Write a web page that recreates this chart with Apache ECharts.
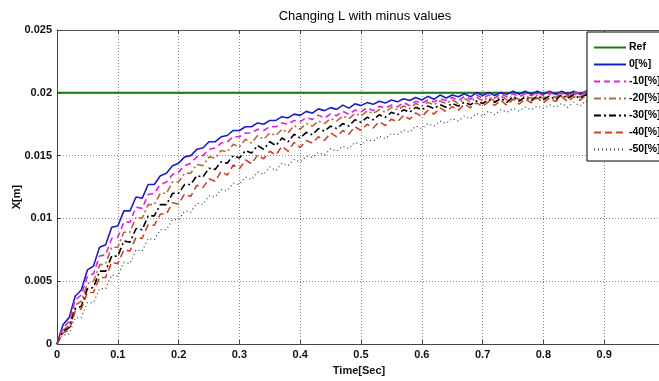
<!DOCTYPE html>
<html>
<head>
<meta charset="utf-8">
<script src="https://cdn.jsdelivr.net/npm/echarts@6/dist/echarts.min.js"></script>
<style>
html,body{margin:0;padding:0;background:#fff;}
#chart{width:659px;height:381px;}
</style>
</head>
<body>
<div id="chart"></div>
<script>
// sample times [s]
const time = [0,0.01,0.02,0.03,0.04,0.05,0.06,0.07,0.08,0.09,0.1,0.11,0.12,0.13,0.14,0.15,0.16,0.17,0.18,0.19,0.2,0.21,0.22,0.23,0.24,0.25,0.26,0.27,0.28,0.29,0.3,0.31,0.32,0.33,0.34,0.35,0.36,0.37,0.38,0.39,0.4,0.41,0.42,0.43,0.44,0.45,0.46,0.47,0.48,0.49,0.5,0.51,0.52,0.53,0.54,0.55,0.56,0.57,0.58,0.59,0.6,0.61,0.62,0.63,0.64,0.65,0.66,0.67,0.68,0.69,0.7,0.71,0.72,0.73,0.74,0.75,0.76,0.77,0.78,0.79,0.8,0.81,0.82,0.83,0.84,0.85,0.86,0.87,0.88,0.89,0.9,0.91,0.92,0.93,0.94,0.95,0.96,0.97,0.98,0.99,1.0];

const refTime = [0, 1];
const refValues = [0.02, 0.02];

const p0 = [0,.00155,.0021,.0038,.0043,.0059,.0062,.0077,.0079,.0093,.0094,.0106,.0106,.0117,.0116,.0127,
.0127,.0134,.0136,.0142,.0144,.0149,.0150,.0155,.0156,.0161,.0161,.0165,.0166,.0170,.0170,.0173,.0173,.0176,.0175,.0178,.0178,.0181,.0180,.0183,.0182,
.01852,.01838,.01872,.01858,.01882,.01868,.01902,.01878,.01912,.01898,
.01922,.01908,.01932,.01918,.01942,.01928,.01952,.01938,.01962,.01943,
.01972,.01948,.01982,.01958,.01982,.01968,.01992,.01968,.02002,.01978,
.02002,.01978,.02002,.01988,.02012,.01988,.02012,.01988,.02012,.01988,
.02012,.01988,.02012,.01988,.02012,.01988,.02012,.01988,.02012,.01988,
.02012,.01988,.02012,.01988,.02012,.01988,.02012,.01988,.02012,.01988];

const m10 = [0,.0013,.0018,.0035,.0039,.0054,.0056,.0070,.0071,.0084,.0085,.0097,.0097,.0109,.0108,.0119,
.0120,.0127,.0129,.0135,.0137,.0142,.0144,.0149,.0150,.0155,.0156,.0160,.0161,.0165,.0165,.0168,.0168,.0171,.0170,.0173,.0173,.0176,.0175,.0178,.0177,
.01802,.01788,.01822,.01798,.01832,.01818,.01852,.01828,.01862,.01848,
.01882,.01858,.01892,.01878,.01902,.01888,.01922,.01898,.01932,.01918,
.01942,.01928,.01952,.01938,.01962,.01938,.01972,.01948,.01982,.01958,
.01982,.01958,.01992,.01968,.01992,.01968,.01992,.01978,.02002,.01978,
.02002,.01978,.02002,.01978,.02012,.01988,.02012,.01988,.02012,.01988,
.02012,.01988,.02012,.01988,.02012,.01988,.02012,.01988,.02012,.01988];

const m20 = [0,.0011,.0015,.0031,.0034,.0048,.0050,.0063,.0064,.0077,.0077,.0089,.0089,.0101,.0100,.0111,.0111,.0120,.0120,.0129,.0129,.0136,.0136,.0143,.0142,.0149,.0148,.0154,.0153,.0159,.0157,.0163,.0160,.0166,.0163,.0168,.0166,.0171,.0168,.0174,.0171,
.01755,.01735,.01775,.01755,.01795,.01775,.01815,.01795,.01835,.01815,
.01855,.01835,.01865,.01845,.01885,.01865,.01895,.01875,.01915,.01895,
.01925,.01905,.01935,.01915,.01945,.01915,.01955,.01925,.01965,.01935,
.01965,.01935,.01975,.01945,.01975,.01945,.01975,.01955,.01985,.01955,
.01985,.01965,.01995,.01965,.01995,.01965,.02005,.01975,.02005,.01975,
.02005,.01975,.02005,.01985,.02015,.01985,.02015,.01985,.02015,.01985];

const m30 = [0,.0010,.0013,.0028,.0030,.0044,.0045,.0058,.0058,.0070,.0070,.0082,.0081,.0092,.0091,.0102,.0102,.0111,.0111,.0120,.0120,.0127,.0127,.0134,.0133,.0140,.0139,.0145,.0144,.0150,.0148,.0154,.0152,.0158,.0155,.0161,.0158,.0164,.0161,.0167,.0164,
.01685,.01665,.01715,.01695,.01735,.01715,.01755,.01735,.01785,.01765,
.01805,.01785,.01825,.01805,.01845,.01825,.01865,.01845,.01885,.01865,
.01895,.01875,.01905,.01885,.01915,.01895,.01925,.01905,.01935,.01915,
.01945,.01925,.01955,.01925,.01965,.01935,.01965,.01935,.01975,.01945,
.01975,.01945,.01985,.01955,.01985,.01955,.01985,.01965,.01995,.01965,
.01995,.01965,.01995,.01965,.02005,.01975,.02005,.01975,.02005,.01975];

const m40 = [0,.0009,.0011,.0026,.0028,.0041,.0041,.0053,.0053,.0065,.0064,.0075,.0074,.0085,.0084,.0095,
.00945,.01035,.01035,.01125,.01115,.01195,.01175,.01265,.01245,.01315,.01295,.01375,.01345,.01425,.01395,.01465,.01435,.01505,.01475,.01535,.01505,.01575,.01535,.01605,.01565,
.0162,.0160,.0165,.0162,.0168,.0165,.0170,.0167,.0173,.0170,
.0175,.0172,.0177,.0174,.0179,.0177,.0182,.0179,.0184,.0181,
.0186,.0183,.0188,.0185,.0189,.0186,.0191,.0188,.0192,.0189,
.0193,.0190,.0194,.0190,.0195,.0191,.0195,.0192,.0196,.0192,
.0196,.0193,.0197,.0193,.0197,.0194,.0198,.0194,.0198,.0195,
.0199,.0195,.0199,.0195,.0199,.0196,.0200,.0196,.0200,.0196];

const m50 = [0,.0007,.0008,.0021,.0021,.0033,.0033,.0044,.0044,.0055,.0054,.0065,.0064,.0075,.0074,.0084,.0083,.0091,.0091,.0099,.0099,.0106,.0105,.0112,.0111,.0118,.0117,.0123,.0122,.0128,.0127,.0133,.0131,.0137,.0135,.0141,.0138,.0144,.0142,.0147,.0145,
.01495,.01485,.01525,.01505,.01555,.01535,.01575,.01555,.01605,.01585,
.01625,.01615,.01655,.01635,.01675,.01665,.01705,.01685,.01735,.01715,
.01755,.01735,.01775,.01755,.01795,.01775,.01815,.01795,.01835,.01815,
.01855,.01825,.01865,.01845,.01875,.01855,.01885,.01865,.01895,.01875,
.01905,.01885,.01915,.01885,.01925,.01895,.01935,.01905,.01935,.01915,
.01945,.01915,.01955,.01925,.01955,.01935,.01965,.01935,.01965,.01945];

const xTicks = [0,0.1,0.2,0.3,0.4,0.5,0.6,0.7,0.8,0.9,1];
const yTicks = [0,0.005,0.01,0.015,0.02,0.025];

const seriesDefs = [
  {name:'Ref',    t: refTime, v: refValues, color:'#0f7f0f', width:2,   type:'solid'},
  {name:'0[%]',   t: time, v: p0,  color:'#1c1cc8', width:1.6, type:'solid'},
  {name:'-10[%]', t: time, v: m10, color:'#e01ee0', width:1.6, type:[6,4]},
  {name:'-20[%]', t: time, v: m20, color:'#b8683a', width:1.6, type:[7,3,2,3]},
  {name:'-30[%]', t: time, v: m30, color:'#000000', width:1.6, type:[7,3,2,3]},
  {name:'-40[%]', t: time, v: m40, color:'#cc4422', width:1.6, type:[7,4]},
  {name:'-50[%]', t: time, v: m50, color:'#2e4e62', width:1.3, type:[1,3]}
];

const fontBold = '"Liberation Sans",Arial,sans-serif';
const labelStyle = {fontFamily: fontBold, fontWeight:'bold', fontSize:11, color:'#111'};

const chart = echarts.init(document.getElementById('chart'), null, {renderer:'canvas'});
chart.setOption({
  animation:false,
  backgroundColor:'#fff',
  title:{
    text:'Changing L with minus values',
    left:360, top:5, textAlign:'center',
    textStyle:{fontFamily:'"Liberation Sans",Arial,sans-serif', fontWeight:'normal', fontSize:13, color:'#000'}
  },
  legend:{
    orient:'vertical',
    left:587, top:32,
    padding:[10,10,6,6],
    itemGap:6,
    itemWidth:32, itemHeight:12,
    itemStyle:{color:'rgba(0,0,0,0)', borderWidth:0, opacity:0},
    backgroundColor:'#fff',
    borderColor:'#000', borderWidth:1, borderRadius:0,
    textStyle:Object.assign({}, labelStyle, {color:'#000', fontSize:10.5, padding:[0,0,0,-2]}),
    data: seriesDefs.map(s=>s.name)
  },
  grid:{left:57, right:-6, top:30, bottom:37, containLabel:false, outerBoundsMode:'none'},
  xAxis:[{
    type:'value', min:xTicks[0], max:xTicks[xTicks.length-1], interval:0.1,
    name:'Time[Sec]', nameLocation:'middle', nameGap:21, nameMoveOverlap:false,
    nameTextStyle:Object.assign({}, labelStyle, {padding:[0,4,0,0]}),
    axisLine:{show:true, lineStyle:{color:'#444', width:1}},
    axisTick:{show:true, inside:true, length:4, lineStyle:{color:'#444'}},
    axisLabel:Object.assign({}, labelStyle, {margin:5}),
    splitLine:{show:true, lineStyle:{color:'#888', type:[1,2], width:1}}
  },{
    type:'value', position:'top', min:xTicks[0], max:xTicks[xTicks.length-1], interval:0.1,
    axisLine:{show:true, lineStyle:{color:'#555', width:1}},
    axisTick:{show:true, inside:true, length:4, lineStyle:{color:'#444'}},
    axisLabel:{show:false}, splitLine:{show:false}
  }],
  yAxis:{
    type:'value', min:yTicks[0], max:yTicks[yTicks.length-1], interval:0.005,
    name:'X[m]', nameLocation:'middle', nameGap:40, nameRotate:90, nameMoveOverlap:false,
    nameTextStyle:Object.assign({}, labelStyle, {padding:[0,20,0,0], align:'center', verticalAlign:'middle'}),
    axisLine:{show:true, lineStyle:{color:'#444', width:1}},
    axisTick:{show:true, inside:true, length:4, lineStyle:{color:'#444'}},
    axisLabel:Object.assign({}, labelStyle, {margin:5}),
    splitLine:{show:true, lineStyle:{color:'#888', type:[1,2], width:1}}
  },
  series: seriesDefs.map(s=>({
    name:s.name, type:'line', xAxisIndex:0,
    symbol:'none', showSymbol:false, smooth:false,
    lineStyle:{color:s.color, width:s.width, type:s.type},
    itemStyle:{color:s.color},
    data: s.t.map((t,i)=>[t, s.v[i]])
  }))
});
</script>
</body>
</html>
